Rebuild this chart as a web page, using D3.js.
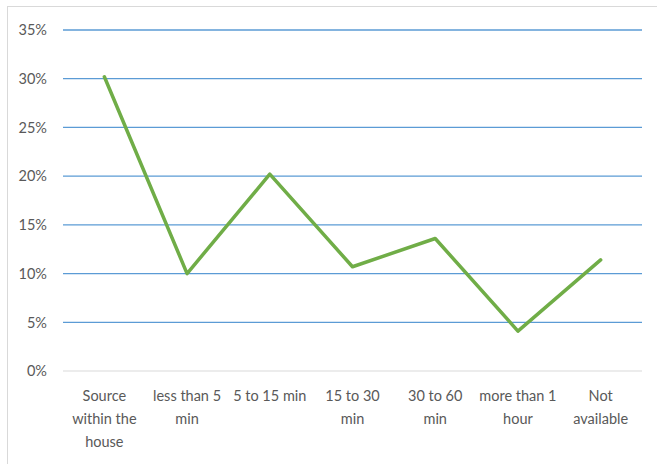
<!DOCTYPE html>
<html>
<head>
<meta charset="utf-8">
<script src="https://cdn.jsdelivr.net/npm/d3@7"></script>
<style>
  html, body { margin: 0; padding: 0; background: #fff; }
  svg { display: block; }
  text { font-family: Lato, "Open Sans", sans-serif; fill: #595959; }
</style>
</head>
<body>
<svg id="chart" width="657" height="464"></svg>
<script>
// Share of households by time taken to reach the water source
const categories = [
  ["Source", "within the", "house"],
  ["less than 5", "min"],
  ["5 to 15 min"],
  ["15 to 30", "min"],
  ["30 to 60", "min"],
  ["more than 1", "hour"],
  ["Not", "available"]
];
const values = [30.2, 10.0, 20.2, 10.7, 13.6, 4.1, 11.4];
const yTicks = [0, 5, 10, 15, 20, 25, 30, 35];

const svg = d3.select("#chart");
const W = 657, H = 464;
const plot = { left: 63, right: 642, top: 30, bottom: 371 };

// chart frame
svg.append("rect")
  .attr("x", 7.5).attr("y", 6.5)
  .attr("width", W).attr("height", H)
  .attr("fill", "none").attr("stroke", "#D9D9D9").attr("stroke-width", 1);

const x = d3.scaleBand()
  .domain(d3.range(categories.length))
  .range([plot.left, plot.right]);

const y = d3.scaleLinear()
  .domain([0, 35])
  .range([plot.bottom, plot.top]);

// horizontal gridlines
svg.append("g")
  .selectAll("line")
  .data(yTicks)
  .join("line")
  .attr("x1", plot.left).attr("x2", plot.right)
  .attr("y1", d => y(d)).attr("y2", d => y(d))
  .attr("stroke", d => d === 0 ? "#D9D9D9" : "#5B9BD5")
  .attr("stroke-width", d => d === 0 ? 1 : 1.3);

// y axis labels
svg.append("g")
  .selectAll("text")
  .data(yTicks)
  .join("text")
  .attr("x", 47)
  .attr("y", d => y(d))
  .attr("dy", "0.36em")
  .attr("text-anchor", "end")
  .attr("font-size", 14.5)
  .text(d => d + "%");

// category labels (multi-line)
const catG = svg.append("g")
  .selectAll("text")
  .data(categories)
  .join("text")
  .attr("text-anchor", "middle")
  .attr("font-size", 14.5)
  .attr("x", (d, i) => x(i) + x.bandwidth() / 2)
  .attr("y", 401);
catG.selectAll("tspan")
  .data(d => d)
  .join("tspan")
  .attr("x", function () { return d3.select(this.parentNode).attr("x"); })
  .attr("dy", (d, i) => i === 0 ? 0 : 23)
  .text(d => d);

// data line
const line = d3.line()
  .x((d, i) => x(i) + x.bandwidth() / 2)
  .y(d => y(d));

svg.append("path")
  .datum(values)
  .attr("d", line)
  .attr("fill", "none")
  .attr("stroke", "#70AD47")
  .attr("stroke-width", 3.5)
  .attr("stroke-linejoin", "round")
  .attr("stroke-linecap", "round");
</script>
</body>
</html>
